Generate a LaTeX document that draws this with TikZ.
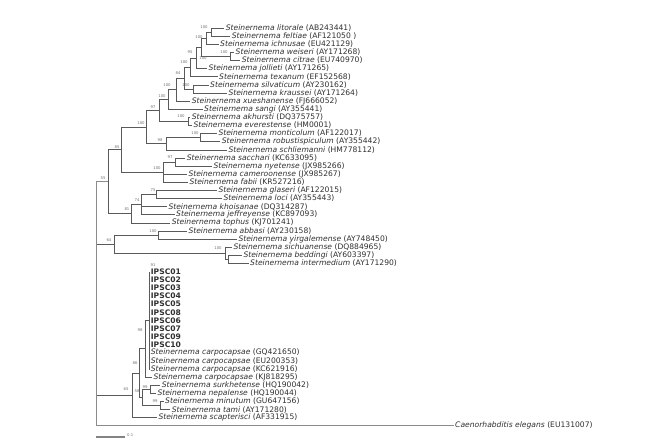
\documentclass[tikz,border=0pt]{standalone}
\usepackage{fontspec}
\setmainfont{DejaVu Sans}
\newcommand\spn[1]{\textit{Steinernema #1}}
\definecolor{brc}{HTML}{5A5A5A}
\definecolor{txc}{HTML}{303030}
\definecolor{bsc}{HTML}{707070}
\tikzset{
  leaf/.style={anchor=west,inner xsep=1.5pt,inner ysep=0pt,text=txc,font=\fontsize{7.6}{8}\selectfont},
  bleaf/.style={leaf,font=\fontsize{7.6}{8}\selectfont\bfseries},
  bs/.style={inner sep=0pt,text=bsc,font=\fontsize{3.8}{4}\selectfont},
  br/.style={draw=brc,line width=0.6pt},
}
\begin{document}
\begin{tikzpicture}[x=1pt,y=-1pt]
\useasboundingbox[fill=white] (0,0) rectangle (667,440);
% ---- leaves
\node[leaf] (lit) at (224.2,28.00) {\spn{litorale} (AB243441)};
\node[leaf] (fel) at (230.2,36.12) {\spn{feltiae} (AF121050 )};
\node[leaf] (ich) at (218.5,44.24) {\spn{ichnusae} (EU421129)};
\node[leaf] (wei) at (234.0,52.36) {\spn{weiseri} (AY171268)};
\node[leaf] (cit) at (240.2,60.48) {\spn{citrae} (EU740970)};
\node[leaf] (jol) at (206.8,68.60) {\spn{jollieti} (AY171265)};
\node[leaf] (tex) at (217.5,76.72) {\spn{texanum} (EF152568)};
\node[leaf] (sil) at (208.5,84.84) {\spn{silvaticum} (AY230162)};
\node[leaf] (kra) at (226.8,92.96) {\spn{kraussei} (AY171264)};
\node[leaf] (xue) at (190.2,101.08) {\spn{xueshanense} (FJ666052)};
\node[leaf] (san) at (202.5,109.20) {\spn{sangi} (AY355441)};
\node[leaf] (akh) at (190.2,117.32) {\spn{akhursti} (DQ375757)};
\node[leaf] (eve) at (191.8,125.44) {\spn{everestense} (HM0001)};
\node[leaf] (mon) at (216.8,133.56) {\spn{monticolum} (AF122017)};
\node[leaf] (rob) at (220.2,141.68) {\spn{robustispiculum} (AY355442)};
\node[leaf] (sch) at (226.8,149.80) {\spn{schliemanni} (HM778112)};
\node[leaf] (sac) at (185.2,157.92) {\spn{sacchari} (KC633095)};
\node[leaf] (nye) at (211.8,166.04) {\spn{nyetense} (JX985266)};
\node[leaf] (cam) at (186.8,174.16) {\spn{cameroonense} (JX985267)};
\node[leaf] (fab) at (187.8,182.28) {\spn{fabii} (KR527216)};
\node[leaf] (gla) at (216.8,190.40) {\spn{glaseri} (AF122015)};
\node[leaf] (loc) at (221.8,198.52) {\spn{loci} (AY355443)};
\node[leaf] (kho) at (166.8,206.64) {\spn{khoisanae} (DQ314287)};
\node[leaf] (jef) at (174.5,214.76) {\spn{jeffreyense} (KC897093)};
\node[leaf] (top) at (170.2,222.88) {\spn{tophus} (KJ701241)};
\node[leaf] (abb) at (186.8,231.00) {\spn{abbasi} (AY230158)};
\node[leaf] (yir) at (236.8,239.12) {\spn{yirgalemense} (AY748450)};
\node[leaf] (sic) at (231.8,247.24) {\spn{sichuanense} (DQ884965)};
\node[leaf] (bed) at (241.8,255.36) {\spn{beddingi} (AY603397)};
\node[leaf] (int) at (248.5,263.48) {\spn{intermedium} (AY171290)};
\node[bleaf] (p01) at (149.2,272.10) {IPSC01};
\node[bleaf] (p02) at (149.2,280.10) {IPSC02};
\node[bleaf] (p03) at (149.2,288.10) {IPSC03};
\node[bleaf] (p04) at (149.2,296.20) {IPSC04};
\node[bleaf] (p05) at (149.2,304.20) {IPSC05};
\node[bleaf] (p08) at (149.2,312.30) {IPSC08};
\node[bleaf] (p06) at (149.2,320.32) {IPSC06};
\node[bleaf] (p07) at (149.2,328.44) {IPSC07};
\node[bleaf] (p09) at (149.2,336.56) {IPSC09};
\node[bleaf] (p10) at (149.2,344.68) {IPSC10};
\node[leaf] (cgq) at (149.2,352.80) {\spn{carpocapsae} (GQ421650)};
\node[leaf] (ceu) at (149.2,360.92) {\spn{carpocapsae} (EU200353)};
\node[leaf] (ckc) at (149.2,369.04) {\spn{carpocapsae} (KC621916)};
\node[leaf] (ckj) at (151.8,377.16) {\spn{carpocapsae} (KJ818295)};
\node[leaf] (sur) at (160.2,385.28) {\spn{surkhetense} (HQ190042)};
\node[leaf] (nep) at (155.8,393.40) {\spn{nepalense} (HQ190044)};
\node[leaf] (min) at (163.5,401.52) {\spn{minutum} (GU647156)};
\node[leaf] (tam) at (170.2,409.64) {\spn{tami} (AY171280)};
\node[leaf] (sca) at (156.8,417.76) {\spn{scapterisci} (AF331915)};
\node[leaf] (cae) at (453.5,425.88) {\textit{Caenorhabditis elegans} (EU131007)};
% ---- internal nodes
\coordinate (N1) at (211,32.06);
\coordinate (N2) at (206,38.15);
\coordinate (N3) at (230,56.42);
\coordinate (NY) at (201,47.29);
\coordinate (Nc) at (196,57.94);
\coordinate (Nf) at (190,67.33);
\coordinate (Nh1) at (193,88.90);
\coordinate (Ng) at (184,78.12);
\coordinate (Nh2) at (176,89.60);
\coordinate (Ni) at (168,99.40);
\coordinate (Nk) at (188,121.38);
\coordinate (Nj) at (159,110.39);
\coordinate (Nm) at (200,137.62);
\coordinate (Nn) at (166,143.71);
\coordinate (Nl) at (146.5,127.05);
\coordinate (NR) at (175,161.98);
\coordinate (NQ) at (163.3,172.13);
\coordinate (NP) at (121.7,149.59);
\coordinate (NV) at (156.7,194.46);
\coordinate (NU) at (141.7,204.61);
\coordinate (NT) at (131.7,213.75);
\coordinate (NS) at (108.3,181.67);
\coordinate (NX) at (158.3,235.06);
\coordinate (NZ) at (228,259.42);
\coordinate (NY2) at (225,253.33);
\coordinate (NW) at (114,244.20);
\coordinate (I1) at (149,320.32);
\coordinate (I2) at (145,348.74);
\coordinate (Na) at (150.5,389.34);
\coordinate (Nb) at (160,405.58);
\coordinate (N58) at (142,397.46);
\coordinate (I3) at (139.5,373.10);
\coordinate (C65) at (132,395.43);
\coordinate (root) at (96.5,303.8);
% ---- branches
\draw[br] (N1) |- (lit.west) (N1) |- (fel.west);
\draw[br] (N2) |- (N1) (N2) |- (ich.west);
\draw[br] (N3) |- (wei.west) (N3) |- (cit.west);
\draw[br] (NY) |- (N2) (NY) |- (N3);
\draw[br] (Nc) |- (NY) (Nc) |- (jol.west);
\draw[br] (Nf) |- (Nc) (Nf) |- (tex.west);
\draw[br] (Nh1) |- (sil.west) (Nh1) |- (kra.west);
\draw[br] (Ng) |- (Nf) (Ng) |- (Nh1);
\draw[br] (Nh2) |- (Ng) (Nh2) |- (xue.west);
\draw[br] (Ni) |- (Nh2) (Ni) |- (san.west);
\draw[br] (Nk) |- (akh.west) (Nk) |- (eve.west);
\draw[br] (Nj) |- (Ni) (Nj) |- (Nk);
\draw[br] (Nm) |- (mon.west) (Nm) |- (rob.west);
\draw[br] (Nn) |- (Nm) (Nn) |- (sch.west);
\draw[br] (Nl) |- (Nj) (Nl) |- (Nn);
\draw[br] (NR) |- (sac.west) (NR) |- (nye.west);
\draw[br] (NQ) |- (NR) (NQ) |- (cam.west) (NQ) |- (fab.west);
\draw[br] (NP) |- (Nl) (NP) |- (NQ);
\draw[br] (NV) |- (gla.west) (NV) |- (loc.west);
\draw[br] (NU) |- (NV) (NU) |- (kho.west) (NU) |- (jef.west);
\draw[br] (NT) |- (NU) (NT) |- (top.west);
\draw[br] (NS) |- (NP) (NS) |- (NT);
\draw[br] (NX) |- (abb.west) (NX) |- (yir.west);
\draw[br] (NZ) |- (bed.west) (NZ) |- (int.west);
\draw[br] (NY2) |- (sic.west) (NY2) |- (NZ);
\draw[br] (NW) |- (NX) (NW) |- (NY2);
\foreach \q in {p01,p02,p03,p04,p05,p08,p06,p07,p09,p10,cgq,ceu,ckc}
  \draw[br] (I1) |- (\q.west);
\draw[br] (I2) |- (I1) (I2) |- (ckj.west);
\draw[br] (Na) |- (sur.west) (Na) |- (nep.west);
\draw[br] (Nb) |- (min.west) (Nb) |- (tam.west);
\draw[br] (N58) |- (Na) (N58) |- (Nb);
\draw[br] (I3) |- (I2) (I3) |- (N58);
\draw[br] (C65) |- (I3) (C65) |- (sca.west);
\draw[br] (root) |- (NS) (root) |- (NW) (root) |- (C65);
\draw[draw=brc!70,line width=1pt] (root) |- (cae.west);
\draw[draw=brc!70,line width=1pt] (root) |- (NS);
% ---- bootstrap values
\node[bs] (b01) at (204,27) {100};
\node[bs] (b02) at (199,37) {100};
\node[bs] (b03) at (190,52) {95};
\node[bs] (b04) at (224,52) {100};
\node[bs] (b05) at (203,58) {100};
\node[bs] (b06) at (184,62) {100};
\node[bs] (b07) at (178,73) {84};
\node[bs] (b08) at (167,85) {100};
\node[bs] (b09) at (186,85) {100};
\node[bs] (b10) at (162,96) {100};
\node[bs] (b11) at (153,107) {97};
\node[bs] (b12) at (181,116) {100};
\node[bs] (b13) at (141,123) {100};
\node[bs] (b14) at (195,133) {100};
\node[bs] (b15) at (160,140) {98};
\node[bs] (b16) at (117,147) {85};
\node[bs] (b17) at (170,157) {97};
\node[bs] (b18) at (157,168) {100};
\node[bs] (b19) at (103,178) {55};
\node[bs] (b20) at (153,190) {75};
\node[bs] (b21) at (137,200) {74};
\node[bs] (b22) at (127,209) {81};
\node[bs] (b23) at (153,231) {100};
\node[bs] (b24) at (109,240) {64};
\node[bs] (b25) at (218,248) {100};
\node[bs] (b26) at (153,265.6) {91};
\node[bs] (b27) at (140,330) {98};
\node[bs] (b28) at (135,363) {86};
\node[bs] (b29) at (126,389) {65};
\node[bs] (b30) at (137,391) {58};
\node[bs] (b31) at (145,387) {99};
\node[bs] (b32) at (155,401) {99};
% ---- scale bar
\coordinate (sb1) at (96,437);
\coordinate (sb2) at (125,437);
\draw[draw=brc!75,line width=1.6pt] (sb1) -- (sb2);
\node[bs,anchor=west] (sbl) at (127,435) {0.1};
\end{tikzpicture}
\end{document}
